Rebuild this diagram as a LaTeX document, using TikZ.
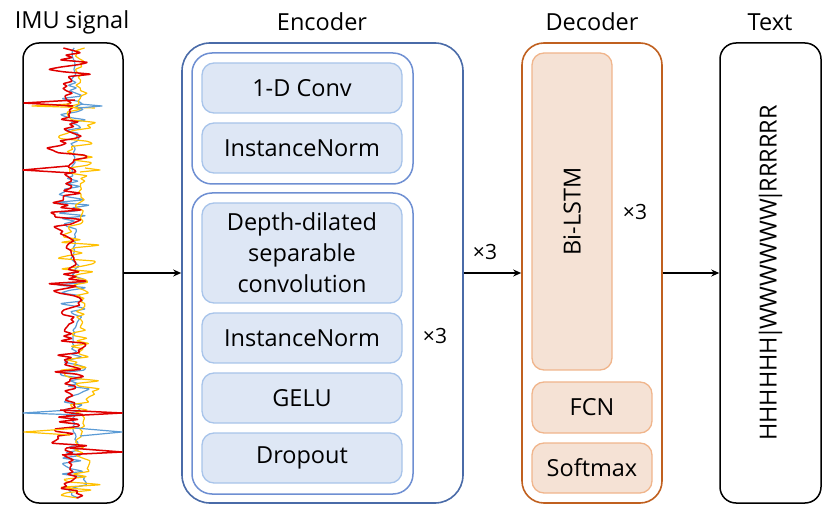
\documentclass[tikz,border=0pt]{standalone}
\usepackage{fontspec}
\setmainfont{Open Sans}
\usetikzlibrary{arrows.meta}
\definecolor{encOut}{HTML}{4A6BA8}
\definecolor{encIn}{HTML}{6E8FD2}
\definecolor{encBd}{HTML}{A8C4EA}
\definecolor{encFill}{HTML}{DEE7F5}
\definecolor{decOut}{HTML}{C0601F}
\definecolor{decBd}{HTML}{F0B58C}
\definecolor{decFill}{HTML}{F5E2D5}
\definecolor{sigRed}{HTML}{E00000}
\definecolor{sigYel}{HTML}{FFC000}
\definecolor{sigBlu}{HTML}{5B9BD5}
\begin{document}
\begin{tikzpicture}[x=1pt,y=-1pt,
  every node/.style={font=\fontsize{23.5}{31}\selectfont, text=black},
  blackbox/.style={draw=black, line width=1.5pt, rounded corners=16pt, inner sep=0pt},
  encouter/.style={draw=encOut, line width=1.6pt, rounded corners=28pt, inner sep=0pt},
  encinner/.style={draw=encIn, line width=1.5pt, rounded corners=20pt, inner sep=0pt},
  encblock/.style={draw=encBd, fill=encFill, line width=1.3pt, rounded corners=12pt, inner sep=0pt, minimum width=200pt, minimum height=50pt, align=center},
  decouter/.style={draw=decOut, line width=1.6pt, rounded corners=22pt, inner sep=0pt},
  decblock/.style={draw=decBd, fill=decFill, line width=1.3pt, rounded corners=12pt, inner sep=0pt, align=center},
  conn/.style={draw=black, line width=1.2pt, -{Stealth[length=8pt,width=7pt]}},
  times/.style={font=\fontsize{21}{24}\selectfont},
  sig/.style={line width=1.2pt, line join=round}
]
\useasboundingbox (0,0) rectangle (823,505);

% titles
\node (timu) at (72,22) {IMU signal};
\node (tenc) at (322,22) {Encoder};
\node (tdec) at (592,22) {Decoder};
\node (ttxt) at (770,22) {Text};

% IMU box
\node[blackbox, minimum width=100pt, minimum height=460pt] (imu) at (73,273) {};
\pgfmathsetseed{11}
\draw[sig, sigBlu] plot[variable=\t, domain=48:498, samples=170, smooth, tension=0.3] ({74+(9+8*sin(\t*4))*rand},\t);
\draw[sig, sigYel] plot[variable=\t, domain=48:498, samples=170, smooth, tension=0.3] ({80+(13+9*sin(\t*3+40))*rand},\t);
\draw[sig, sigRed, line width=1.5pt] plot[variable=\t, domain=48:498, samples=190, smooth, tension=0.3] ({70+(14+10*sin(\t*5+90))*rand},\t);
% spikes
\draw[sig, sigYel] (70,104) -- (32,106) -- (95,108);
\draw[sig, sigBlu] (80,104) -- (102,106) -- (78,108);
\draw[sig, sigRed, line width=1.5pt] (75,100) -- (24,103) -- (73,106);
\draw[sig, sigRed, line width=1.5pt] (68,166) -- (23,170) -- (72,173);
\draw[sig, sigYel] (85,168) -- (100,170) -- (80,172);
\draw[sig, sigBlu] (70,410) -- (23,413) -- (80,415);
\draw[sig, sigRed, line width=1.5pt] (60,410) -- (122,413) -- (66,416);
\draw[sig, sigYel] (80,428) -- (24,432) -- (70,435);
\draw[sig, sigBlu] (75,428) -- (122,432) -- (80,436);
\draw[sig, sigRed, line width=1.5pt] (70,448) -- (122,452) -- (62,455);

% Encoder
\node[encouter, minimum width=281pt, minimum height=460pt] (enc) at (322.5,273) {};
\node[encinner, minimum width=221pt, minimum height=131pt] (grp1) at (302.5,118.5) {};
\node[encinner, minimum width=221pt, minimum height=301pt] (grp2) at (302.5,343.5) {};
\node[encblock] (conv) at (302,88) {1-D Conv};
\node[encblock] (norm1) at (302,148) {InstanceNorm};
\node[encblock, minimum height=100pt] (ddsc) at (302,253) {Depth-dilated\\separable\\convolution};
\node[encblock] (norm2) at (302,338) {InstanceNorm};
\node[encblock] (gelu) at (302,398) {GELU};
\node[encblock] (drop) at (302,458) {Dropout};
\node[times] (rep1) at (435,336) {×3};

% Decoder
\node[decouter, minimum width=140pt, minimum height=460pt] (dec) at (592,273) {};
\node[decblock, minimum width=80pt, minimum height=317pt] (lstm) at (572,211.5) {};
\node[rotate=90] (lstmt) at (lstm.center) {Bi-LSTM};
\node[decblock, minimum width=120pt, minimum height=51pt] (fcn) at (592,407.5) {FCN};
\node[decblock, minimum width=120pt, minimum height=50pt] (soft) at (592,468) {Softmax};
\node[times] (rep3) at (635,212) {×3};

% Text
\node[blackbox, minimum width=101pt, minimum height=460pt] (txt) at (770.5,273) {};
\node[rotate=90] (seq) at (txt.center) {HHHHHH\kern-3pt|\kern-3pt WWWWWW\kern-3pt|\kern-3pt RRRRRR};

% connectors
\draw[conn] (imu.east) -- (enc.west);
\draw[conn] (enc.east) -- (dec.west);
\draw[conn] (dec.east) -- (txt.west);
\node[times] (rep2) at (485,252) {×3};
\end{tikzpicture}
\end{document}
